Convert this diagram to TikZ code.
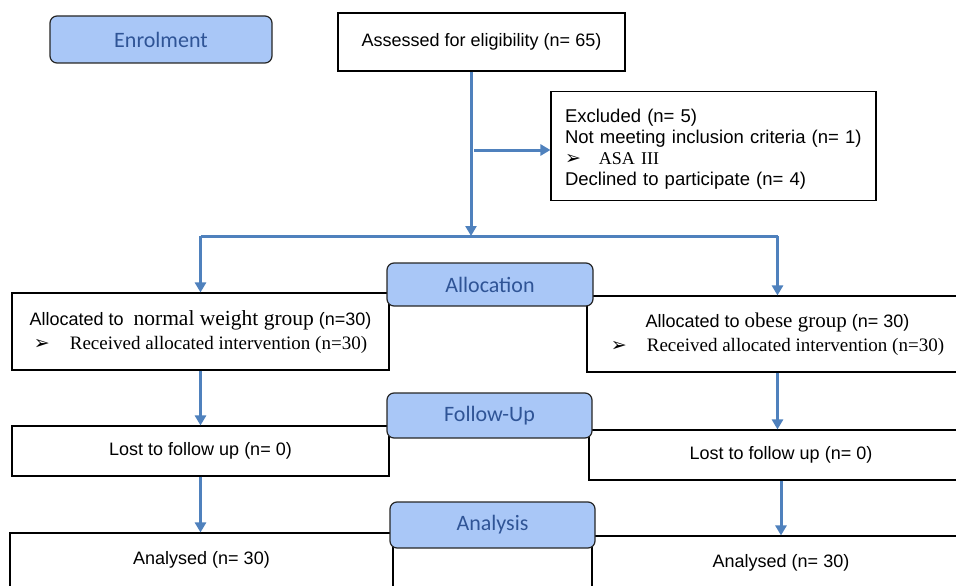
\documentclass[tikz,border=0pt]{standalone}
\usepackage{fontspec}
\setmainfont{Liberation Sans}
\newfontfamily\timesfont{Liberation Serif}
\newfontfamily\labelfont{Carlito}
\newfontfamily\symfont{DejaVu Sans}
\usetikzlibrary{arrows.meta}
\definecolor{labelfill}{RGB}{169,199,247}
\definecolor{labeltext}{RGB}{47,84,150}
\definecolor{flowline}{RGB}{79,129,189}
\newcommand{\pointer}{{\symfont\fontsize{19}{19}\selectfont ➢}}

\begin{document}
\begin{tikzpicture}[x=1pt,y=-1pt]
    \tikzstyle{box}=[draw, line width=1.1pt, rectangle, inner sep=0pt, align=center, font=\fontsize{18}{24}\selectfont]
    \tikzstyle{stage}=[draw=black!85, line width=1.2pt, rounded corners=7pt, fill=labelfill, text=labeltext, inner sep=0pt, font=\labelfont\fontsize{22}{22}\selectfont]
    \tikzstyle{flow}=[draw=flowline, line width=3pt, -{Triangle[width=11pt,length=10pt]}]

    \useasboundingbox (0,0) rectangle (956,586);
    \clip (0,0) rectangle (956,586);

    \node[box, minimum width=287pt, minimum height=58pt] (assess) at (481.5,42) {Assessed for eligibility (n= 65)};
    \node[box, minimum width=325pt, minimum height=109pt, text width=297pt, align=left, font=\fontsize{18.5}{21}\selectfont] (excl) at (713.5,146)
        {\rule{0pt}{19pt}Excluded (n= 5)\\ Not meeting inclusion criteria (n=~1)\\ \pointer\hspace{18pt}{\timesfont\fontsize{18}{18}\selectfont ASA III}\\ Declined to participate (n= 4)};

    \node[box, minimum width=377pt, minimum height=77pt] (allocL) at (200.5,331.5)
        {\rule{0pt}{16pt}Allocated to \ {\timesfont\fontsize{21.5}{21.5}\selectfont normal weight group} (n=30)\\ \pointer\hspace{20pt}{\timesfont\fontsize{19}{19}\selectfont Received allocated intervention (n=30)}};
    \node[box, minimum width=381pt, minimum height=76pt] (allocR) at (777.5,334)
        {\rule{0pt}{16pt}Allocated to {\timesfont\fontsize{21}{21}\selectfont obese group} (n= 30)\\ \pointer\hspace{20pt}{\timesfont\fontsize{19}{19}\selectfont Received allocated intervention (n=30)}};

    \node[box, minimum width=377pt, minimum height=50pt] (lostL) at (200.5,451) {Lost to follow up (n= 0)};
    \node[box, minimum width=384pt, minimum height=50pt] (lostR) at (781,455) {Lost to follow up (n= 0)};

    \node[box, minimum width=383pt, minimum height=54pt] (anaL) at (201.5,560) {Analysed (n= 30)};
    \node[box, minimum width=378pt, minimum height=54pt] (anaR) at (781,563) {Analysed (n= 30)};
    \node[box, minimum width=199pt, minimum height=60pt] (gap) at (492.5,570) {};

    % flow lines
    \coordinate (split) at (471,236);
    \coordinate (branch) at (474,150);
    \draw[flow] (split |- assess.south) -- (split);
    \draw[flow] (branch) -- (branch -| excl.west);
    \draw[draw=flowline, line width=3pt] (allocL.north |- split) -- (allocR.north |- split);
    \draw[flow] (allocL.north |- split) -- (allocL.north);
    \draw[flow] (allocR.north |- split) -- (allocR.north);
    \draw[flow] (allocL.south) -- (lostL.north);
    \draw[flow] (allocR.south) -- (allocR.south |- lostR.north);
    \draw[flow] (lostL.south) -- (lostL.south |- anaL.north);
    \draw[flow] (lostR.south) -- (anaR.north);

    % stage labels
    \node[stage, minimum width=222pt, minimum height=47pt] (enrol) at (161,39.5) {Enrolment};
    \node[stage, minimum width=206pt, minimum height=43pt] (allocLab) at (490,284.5) {Allocation};
    \node[stage, minimum width=205pt, minimum height=45pt] (followLab) at (489.5,415.5) {Follow-Up};
    \node[stage, minimum width=205pt, minimum height=46pt] (anaLab) at (492.5,525) {Analysis};
\end{tikzpicture}
\end{document}
